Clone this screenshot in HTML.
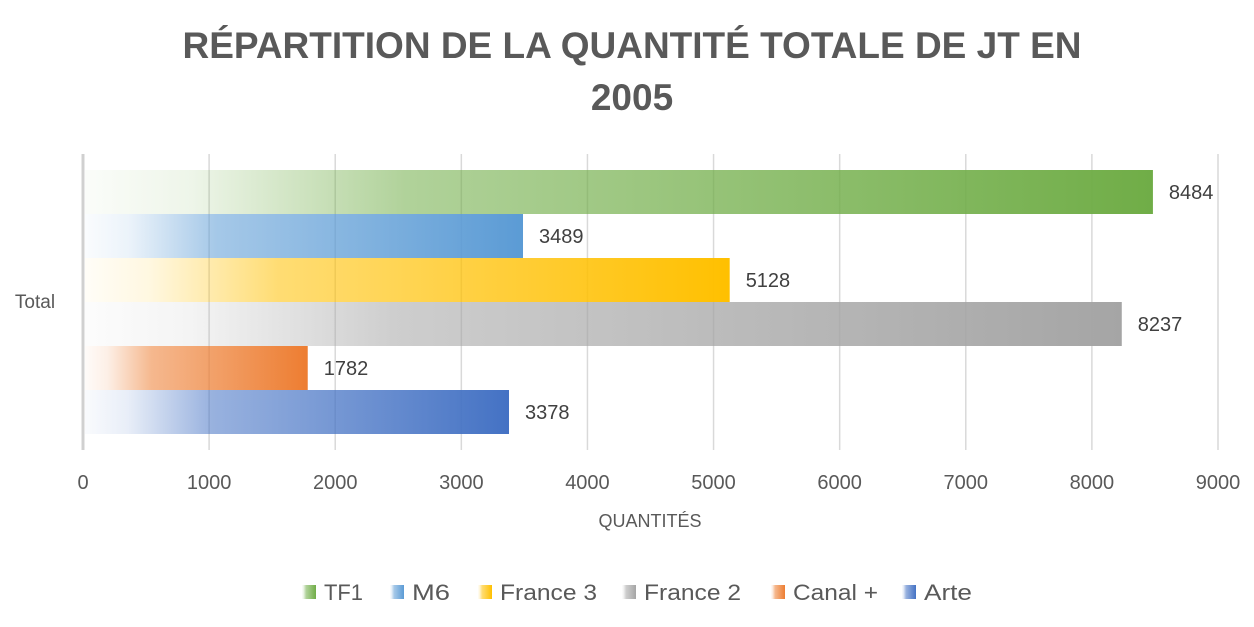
<!DOCTYPE html>
<html><head><meta charset="utf-8"><style>
body{margin:0;background:#fff;width:1254px;height:622px;overflow:hidden;font-family:"Liberation Sans",sans-serif;}
</style></head><body>
<svg id="c" width="1254" height="622" font-family="Liberation Sans, sans-serif">
<defs id="defs"></defs>
<text x="632" y="58" text-anchor="middle" font-size="37" font-weight="bold" fill="#595959">RÉPARTITION DE LA QUANTITÉ TOTALE DE JT EN</text>
<text x="632" y="110" text-anchor="middle" font-size="37" font-weight="bold" fill="#595959">2005</text>
<text x="35" y="308" text-anchor="middle" font-size="19" fill="#595959">Total</text>
<text x="650" y="527" text-anchor="middle" font-size="18" fill="#595959">QUANTITÉS</text>
<g id="grid"></g><g id="bars"></g><g id="legend"></g>
</svg>
<script>
const series=["TF1","M6","France 3","France 2","Canal +","Arte"];
const values=[8484,3489,5128,8237,1782,3378];
const colors=["#70AD47","#5B9BD5","#FFC000","#A5A5A5","#ED7D31","#4472C4"];
const ticks=[0,1000,2000,3000,4000,5000,6000,7000,8000,9000];
const NS="http://www.w3.org/2000/svg";
const x0=83,x1=1218,xmax=9000,yTop=170,bandH=44;
const xs=v=>x0+(x1-x0)*v/xmax;
function el(t,a,p){const e=document.createElementNS(NS,t);for(const k in a)e.setAttribute(k,a[k]);p.appendChild(e);return e;}
const grid=document.getElementById('grid'),bars=document.getElementById('bars'),defs=document.getElementById('defs'),leg=document.getElementById('legend');
ticks.forEach((t,i)=>{
 if(i>0){const l=el('line',{x1:xs(t),x2:xs(t),y1:154,y2:450,stroke:'#d9d9d9','stroke-width':1.5},grid);
 
 }
 const tx=el('text',{x:xs(t),y:489,'text-anchor':'middle','font-size':20,fill:'#595959'},grid);tx.textContent=t;
 
 
});
const ax=el('line',{x1:x0,x2:x0,y1:154,y2:450,stroke:'#d0d0d0','stroke-width':3},grid);


function grad(id,c){const g=el('linearGradient',{id:id,x1:0,x2:1,y1:0,y2:0},defs);
 [[0,0.03],[0.1,0.12],[0.3,0.55],[1,1]].forEach(s=>el('stop',{offset:s[0],'stop-color':c,'stop-opacity':s[1]},g));}
values.forEach((v,i)=>{
 grad('g'+i,colors[i]);
 const y=yTop+i*bandH;
 const r=el('rect',{x:x0+2,y:y,width:xs(v)-x0-2,height:bandH,fill:'url(#g'+i+')'},bars);
 
 
 const t=el('text',{x:xs(v)+16,y:y+bandH/2+7,'font-size':20,fill:'#404040'},bars);t.textContent=v;
 
 
});
const legX=[302,390,478,622,771,902];
const legW=[39,38,97,97,85,48];
series.forEach((s,i)=>{
 const g=el('g',{},leg);
 
 
 el('rect',{x:legX[i],y:585,width:14,height:14,fill:'url(#g'+i+')'},g);
 const t=el('text',{x:legX[i]+22,y:600,'font-size':22,fill:'#595959',textLength:legW[i],lengthAdjust:'spacingAndGlyphs'},g);t.textContent=s;
});
</script>
</body></html>
